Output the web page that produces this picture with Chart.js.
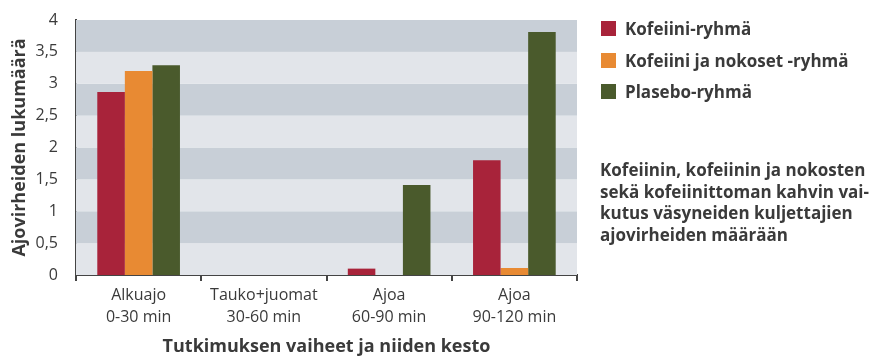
<!DOCTYPE html>
<html>
<head>
<meta charset="utf-8">
<script src="https://cdn.jsdelivr.net/npm/chart.js@4"></script>
<style>
  html, body { margin: 0; padding: 0; background: #fff; }
  #wrap { position: relative; width: 874px; height: 356px; }
  #chart { position: absolute; left: 0; top: 0; }
  .side { position: absolute; font-family: "Open Sans", sans-serif; font-weight: 700; color: #3a3a3a; font-size: 17px; white-space: nowrap; }
  #legend { left: 601px; top: 13px; }
  .item { display: flex; align-items: center; height: 31.5px; }
  .box { width: 15px; height: 15px; margin-right: 9px; flex: none; }
  #note { left: 600px; top: 159px; line-height: 21.7px; }
</style>
</head>
<body>
<div id="wrap">
  <canvas id="chart" width="874" height="356"></canvas>
  <div id="legend" class="side"></div>
  <div id="note" class="side">Kofeiinin, kofeiinin ja nokosten<br>sekä kofeiinittoman kahvin vai-<br>kutus väsyneiden kuljettajien<br>ajovirheiden määrään</div>
</div>
<script>
// Study phases (two-line tick labels)
const phases = [
  ["Alkuajo", "0-30 min"],
  ["Tauko+juomat", "30-60 min"],
  ["Ajoa", "60-90 min"],
  ["Ajoa", "90-120 min"]
];
const groupNames = ["Kofeiini-ryhmä", "Kofeiini ja nokoset -ryhmä", "Plasebo-ryhmä"];
const kofeiini = [2.87, 0, 0.1, 1.8];
const kofeiiniNokoset = [3.2, 0, 0, 0.11];
const plasebo = [3.29, 0, 1.41, 3.81];
const groupColors = ["#a8233a", "#e88a33", "#4a5a2c"];
const yTicks = [0, 0.5, 1, 1.5, 2, 2.5, 3, 3.5, 4];

const series = [kofeiini, kofeiiniNokoset, plasebo];
const textColor = "#3a3a3a";

// Alternating horizontal bands behind the bars
const bandPlugin = {
  id: "bands",
  beforeDatasetsDraw(chart) {
    const { ctx, chartArea, scales } = chart;
    const y = scales.y;
    ctx.save();
    for (let i = 0; i < yTicks.length - 1; i++) {
      const top = y.getPixelForValue(yTicks[i + 1]);
      const bot = y.getPixelForValue(yTicks[i]);
      ctx.fillStyle = (i % 2 === 1) ? "#c8cfd7" : "#e2e5ea";
      ctx.fillRect(chartArea.left, top, chartArea.right - chartArea.left, bot - top);
    }
    ctx.restore();
  }
};

new Chart(document.getElementById("chart"), {
  type: "bar",
  data: {
    labels: phases,
    datasets: series.map((d, i) => ({
      label: groupNames[i],
      data: d,
      backgroundColor: groupColors[i],
      categoryPercentage: 0.66,
      barPercentage: 1.0
    }))
  },
  options: {
    responsive: false,
    animation: false,
    layout: { padding: { top: 20, right: 297, bottom: 0, left: 0 } },
    plugins: {
      legend: { display: false },
      tooltip: { enabled: false }
    },
    scales: {
      x: {
        afterFit(scale) { scale.height = 81; },
        grid: { display: true, drawOnChartArea: false, drawTicks: true, tickLength: 6, color: "#444", lineWidth: 2, offset: true },
        border: { display: true, color: "#444", width: 2 },
        ticks: { color: textColor, font: { family: "Open Sans", size: 16, lineHeight: 1.35 }, padding: 4 },
        title: { display: true, text: "Tutkimuksen vaiheet ja niiden kesto", color: textColor, font: { family: "Open Sans", size: 18, weight: "bold", lineHeight: 1.0 }, padding: { top: 0, bottom: 0 } }
      },
      y: {
        min: 0,
        max: 4,
        afterBuildTicks(scale) { scale.ticks = yTicks.map(v => ({ value: v })); },
        afterFit(scale) { scale.width = 76; },
        grid: { display: false },
        border: { display: true, color: "#444", width: 2 },
        ticks: {
          color: textColor,
          font: { family: "Open Sans", size: 16 },
          padding: 10,
          callback: v => String(v).replace(".", ",")
        },
        title: { display: true, text: "Ajovirheiden lukumäärä", color: textColor, font: { family: "Open Sans", size: 18, weight: "bold" }, padding: { top: 9, bottom: 0 } }
      }
    }
  },
  plugins: [bandPlugin]
});

// Legend built from the group arrays
const legendEl = document.getElementById("legend");
groupNames.forEach((name, i) => {
  const row = document.createElement("div");
  row.className = "item";
  const box = document.createElement("span");
  box.className = "box";
  box.style.background = groupColors[i];
  const txt = document.createElement("span");
  txt.textContent = name;
  row.appendChild(box);
  row.appendChild(txt);
  legendEl.appendChild(row);
});
</script>
</body>
</html>
